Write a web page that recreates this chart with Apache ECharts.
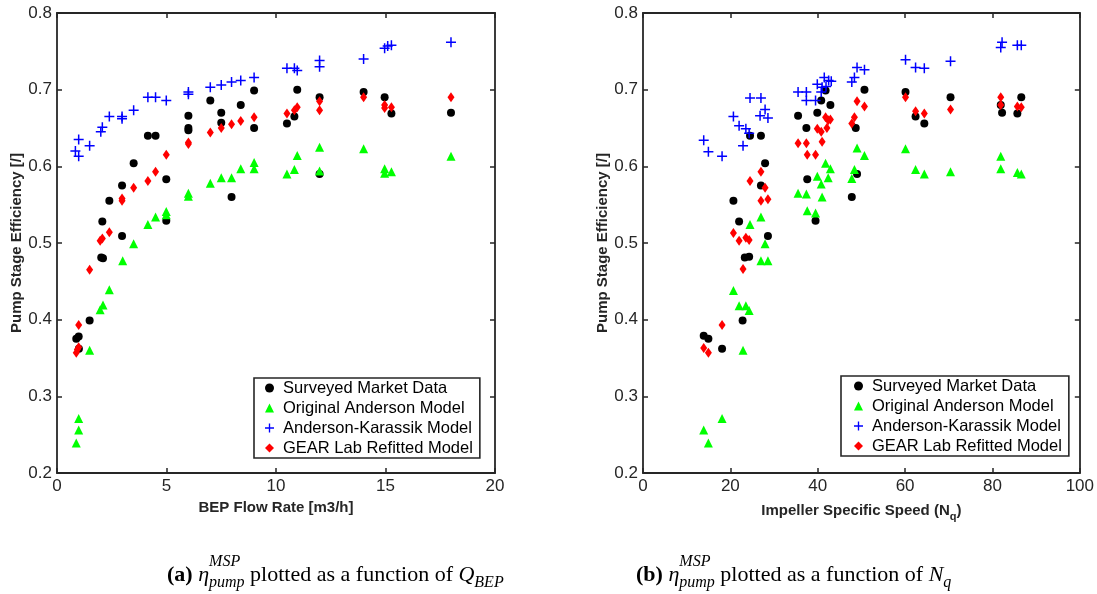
<!DOCTYPE html>
<html>
<head>
<meta charset="utf-8">
<script src="https://cdn.jsdelivr.net/npm/echarts@6/dist/echarts.min.js"></script>
<style>
  html, body { margin: 0; padding: 0; background: #fff; }
  #chart { width: 1097px; height: 594px; }
</style>
</head>
<body>
<div id="chart"></div>
<script>
// ---- Series names ----
const seriesNames = ['Surveyed Market Data', 'Original Anderson Model', 'Anderson-Karassik Model', 'GEAR Lab Refitted Model'];

// ---- Panel (a): efficiency vs BEP flow rate [m3/h] ----
const flowSurveyed = [[0.88,0.375],[0.99,0.378],[1.0,0.362],[1.49,0.399],[2.02,0.481],[2.1,0.480],[2.07,0.528],[2.39,0.555],[2.97,0.575],[2.97,0.509],[3.5,0.604],[4.15,0.640],[4.5,0.640],[4.99,0.583],[4.99,0.529],[6.0,0.666],[6.0,0.650],[6.0,0.647],[7.0,0.686],[7.5,0.670],[7.5,0.657],[7.97,0.560],[8.39,0.680],[9.0,0.699],[9.0,0.650],[10.5,0.656],[10.84,0.665],[10.97,0.700],[11.99,0.690],[11.99,0.590],[14.0,0.697],[14.96,0.690],[15.27,0.669],[17.99,0.670]];
const flowAnderson = [[0.88,0.239],[0.99,0.256],[0.99,0.271],[1.49,0.360],[1.97,0.413],[2.1,0.419],[2.39,0.439],[3.0,0.477],[3.5,0.499],[4.15,0.524],[4.5,0.534],[4.99,0.541],[4.99,0.537],[6.0,0.565],[6.0,0.561],[7.0,0.578],[7.5,0.585],[7.97,0.585],[8.39,0.597],[9.0,0.605],[9.0,0.597],[10.5,0.590],[10.84,0.596],[10.97,0.614],[11.99,0.625],[11.99,0.594],[14.0,0.623],[14.96,0.597],[14.96,0.591],[15.27,0.593],[17.99,0.613]];
const flowKarassik = [[0.84,0.620],[0.99,0.613],[0.99,0.635],[1.49,0.627],[2.0,0.645],[2.07,0.651],[2.39,0.665],[2.97,0.665],[2.97,0.662],[3.5,0.673],[4.15,0.690],[4.5,0.690],[4.99,0.686],[6.0,0.697],[6.0,0.694],[7.0,0.703],[7.5,0.706],[7.97,0.710],[8.39,0.712],[9.0,0.716],[10.5,0.728],[10.84,0.728],[10.97,0.725],[11.99,0.738],[11.99,0.730],[14.0,0.740],[14.96,0.754],[15.1,0.757],[15.27,0.758],[17.99,0.762]];
const flowGear = [[0.88,0.357],[0.99,0.364],[0.93,0.361],[0.99,0.393],[1.49,0.465],[1.97,0.503],[2.07,0.506],[2.39,0.514],[2.97,0.555],[2.97,0.558],[3.5,0.572],[4.15,0.581],[4.5,0.593],[4.99,0.615],[6.0,0.631],[6.0,0.629],[7.0,0.644],[7.5,0.650],[7.97,0.655],[8.39,0.659],[9.0,0.664],[10.5,0.669],[10.84,0.673],[10.97,0.677],[11.99,0.685],[11.99,0.673],[14.0,0.690],[14.96,0.680],[14.96,0.676],[15.27,0.677],[17.99,0.690]];

// ---- Panel (b): efficiency vs impeller specific speed N_q ----
const nqSurveyed = [[13.9,0.379],[14.97,0.375],[18.1,0.362],[22.8,0.399],[23.3,0.481],[24.3,0.482],[20.7,0.555],[22.0,0.528],[24.5,0.640],[27.0,0.640],[27.0,0.575],[27.95,0.604],[28.6,0.509],[35.5,0.666],[37.4,0.650],[37.6,0.583],[39.5,0.529],[39.9,0.670],[40.8,0.686],[41.8,0.699],[42.9,0.680],[47.8,0.560],[48.7,0.650],[49.0,0.590],[50.7,0.700],[60.1,0.697],[62.4,0.665],[64.4,0.656],[70.4,0.690],[81.9,0.680],[82.2,0.670],[85.7,0.669],[86.6,0.690]];
const nqAnderson = [[13.9,0.256],[14.97,0.239],[18.1,0.271],[22.9,0.360],[20.7,0.438],[22.0,0.418],[23.55,0.418],[24.3,0.412],[27.0,0.477],[28.6,0.477],[27.95,0.499],[24.5,0.524],[27.0,0.534],[35.5,0.565],[37.4,0.564],[37.6,0.542],[39.5,0.539],[39.9,0.587],[40.8,0.577],[41.0,0.560],[41.8,0.604],[42.4,0.585],[42.9,0.597],[47.8,0.584],[48.4,0.596],[49.0,0.624],[50.7,0.614],[60.1,0.623],[62.4,0.596],[64.4,0.590],[70.4,0.593],[81.9,0.613],[81.9,0.597],[85.7,0.592],[86.6,0.590]];
const nqKarassik = [[13.9,0.634],[14.97,0.619],[18.1,0.613],[20.7,0.665],[22.0,0.653],[22.9,0.627],[23.55,0.649],[24.3,0.643],[24.5,0.689],[27.0,0.689],[26.8,0.666],[27.95,0.674],[28.6,0.663],[35.5,0.697],[37.4,0.697],[37.4,0.686],[39.5,0.686],[39.9,0.707],[40.8,0.697],[41.0,0.703],[41.5,0.716],[41.9,0.704],[42.5,0.712],[43.1,0.711],[47.8,0.710],[48.4,0.716],[49.0,0.729],[50.7,0.726],[60.1,0.739],[62.4,0.729],[64.4,0.728],[70.4,0.737],[81.9,0.755],[82.2,0.762],[85.7,0.758],[86.6,0.758]];
const nqGear = [[13.9,0.363],[14.97,0.357],[18.1,0.393],[22.9,0.466],[20.7,0.513],[22.0,0.503],[23.55,0.507],[24.3,0.504],[24.5,0.581],[27.0,0.593],[27.95,0.572],[27.0,0.555],[28.6,0.557],[35.5,0.630],[37.4,0.630],[37.6,0.615],[39.5,0.615],[39.9,0.649],[40.8,0.645],[41.0,0.632],[41.8,0.664],[42.4,0.660],[42.9,0.661],[42.1,0.650],[47.8,0.656],[48.4,0.664],[49.0,0.685],[50.7,0.678],[60.1,0.690],[62.4,0.672],[64.4,0.669],[70.4,0.674],[81.9,0.690],[81.9,0.680],[85.7,0.678],[86.6,0.677]];

// ---- Axis ranges / ticks ----
const yRange = { min: 0.2, max: 0.8, interval: 0.1 };
const flowRange = { min: 0, max: 20, interval: 5 };
const nqRange = { min: 0, max: 100, interval: 20 };

// ---- Styling ----
const axisColor = '#262626';
const sans = 'Liberation Sans';
const serif = 'Liberation Serif';
const plusPath = 'path://M8.5,0H11.5V8.5H20V11.5H11.5V20H8.5V11.5H0V8.5H8.5Z';
const markerStyles = [
  { symbol: 'circle', symbolSize: 8, color: '#000000' },
  { symbol: 'triangle', symbolSize: 9, color: '#00ff00' },
  { symbol: plusPath, symbolSize: 10, color: '#0000ff' },
  { symbol: 'diamond', symbolSize: [7, 10], color: '#ff0000' }
];

const grids = [
  { left: 57, top: 13, width: 438, height: 460 },
  { left: 643, top: 13, width: 438, height: 460 }
];

function boxAxis(kind, gridIndex, range, position, withLabels, name, nameOpts) {
  const ax = {
    type: 'value', gridIndex, position,
    min: range.min, max: range.max, interval: range.interval,
    splitLine: { show: false },
    axisLine: { show: true, onZero: false, lineStyle: { color: axisColor, width: 1.8 } },
    axisTick: { show: true, inside: true, length: 5, lineStyle: { color: axisColor, width: 1.5 } },
    axisLabel: {
      show: withLabels, color: axisColor, fontFamily: sans, fontSize: 17, margin: 5,
      formatter: kind === 'y' ? (v) => v.toFixed(1) : (v) => String(Math.round(v))
    }
  };
  if (name) Object.assign(ax, { name, nameLocation: 'middle' }, nameOpts);
  return ax;
}

const axisNameStyle = { fontFamily: sans, fontWeight: 'bold', fontSize: 15, color: axisColor };

const xAxes = [
  boxAxis('x', 0, flowRange, 'bottom', true, 'BEP Flow Rate [m3/h]', { nameGap: 27, nameTextStyle: axisNameStyle }),
  boxAxis('x', 0, flowRange, 'top', false),
  boxAxis('x', 1, nqRange, 'bottom', true, 'Impeller Specific Speed (N{q|q})', {
    nameGap: 27,
    nameTextStyle: Object.assign({}, axisNameStyle, {
      rich: { q: { fontFamily: sans, fontWeight: 'bold', fontSize: 11, color: axisColor, padding: [11, 0, 0, 0] } }
    })
  }),
  boxAxis('x', 1, nqRange, 'top', false)
];
const yAxes = [
  boxAxis('y', 0, yRange, 'left', true, 'Pump Stage Efficiency [/]', { nameGap: 32, nameTextStyle: axisNameStyle }),
  boxAxis('y', 0, yRange, 'right', false),
  boxAxis('y', 1, yRange, 'left', true, 'Pump Stage Efficiency [/]', { nameGap: 32, nameTextStyle: axisNameStyle }),
  boxAxis('y', 1, yRange, 'right', false)
];

function scatter(idx, data, axisIdx) {
  const m = markerStyles[idx];
  return {
    type: 'scatter', name: seriesNames[idx], data,
    xAxisIndex: axisIdx, yAxisIndex: axisIdx,
    symbol: m.symbol, symbolSize: m.symbolSize,
    itemStyle: { color: m.color, opacity: 1 },
    z: 2 + idx, emphasis: { disabled: true }, animation: false
  };
}

const series = [
  scatter(0, flowSurveyed, 0), scatter(1, flowAnderson, 0), scatter(2, flowKarassik, 0), scatter(3, flowGear, 0),
  scatter(0, nqSurveyed, 2), scatter(1, nqAnderson, 2), scatter(2, nqKarassik, 2), scatter(3, nqGear, 2)
];

function legendAt(left, top, padLeft) {
  return {
    orient: 'vertical', left, top,
    data: seriesNames.map((n, i) => ({ name: n, icon: markerStyles[i].symbol, itemStyle: { color: markerStyles[i].color } })),
    itemWidth: 9, itemHeight: 9, itemGap: 0,
    symbolKeepAspect: true,
    padding: [0, 7, 0, padLeft],
    backgroundColor: '#ffffff', borderColor: axisColor, borderWidth: 1.6, borderRadius: 0,
    textStyle: { fontFamily: sans, fontSize: 16.5, color: '#000000', lineHeight: 20, padding: [0, 0, 0, 4] },
    selectedMode: false, z: 20
  };
}

// ---- Captions built from text pieces (sub/superscripts placed by measuring) ----
const measureCtx = document.createElement('canvas').getContext('2d');
function textWidth(text, font) { measureCtx.font = font; return measureCtx.measureText(text).width; }

function caption(x0, baseline, label, subjectSub) {
  const big = 22, small = 16;
  const fnt = (style, weight, size) => `${style} ${weight} ${size}px "${serif}"`;
  const els = [];
  let x = x0;
  function put(text, style, weight, size, dy) {
    const font = fnt(style, weight, size);
    els.push({
      type: 'text', z: 50,
      style: { text, x, y: baseline + dy - size * 0.3, font, fill: '#000', align: 'left', verticalAlign: 'middle' }
    });
    return textWidth(text, font);
  }
  x += put(label, 'normal', 'bold', big, 0);
  x += textWidth(' ', fnt('normal', 'normal', big));
  x += put('η', 'italic', 'normal', big, 0);
  const wSup = put('MSP', 'italic', 'normal', small, -15);
  const wSub = put('pump', 'italic', 'normal', small, 6);
  x += Math.max(wSup, wSub);
  x += put(' plotted as a function of ', 'normal', 'normal', big, 0);
  x += put(subjectSub[0], 'italic', 'normal', big, 0);
  put(subjectSub[1], 'italic', 'normal', small, 6);
  return els;
}

const chart = echarts.init(document.getElementById('chart'), null, { renderer: 'canvas' });
chart.setOption({
  backgroundColor: '#ffffff',
  animation: false,
  grid: grids,
  xAxis: xAxes,
  yAxis: yAxes,
  legend: [legendAt(254, 378, 11), legendAt(841, 376, 13)],
  series,
  graphic: [].concat(
    caption(167, 582, '(a)', ['Q', 'BEP']),
    caption(636, 582, '(b)', ['N', 'q'])
  )
});
</script>
</body>
</html>
